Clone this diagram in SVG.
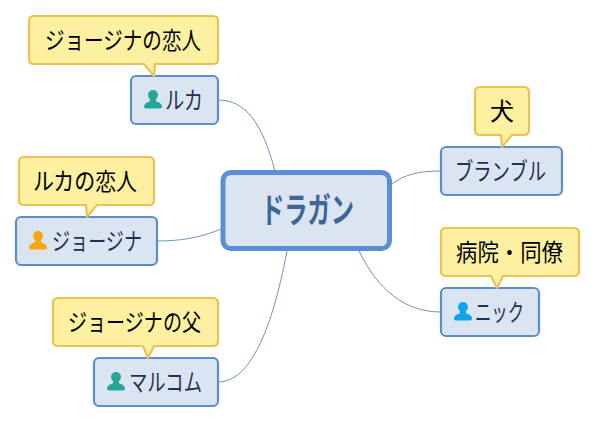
<svg xmlns="http://www.w3.org/2000/svg" width="596" height="423" viewBox="0 0 596 423">
<defs>
<style>
text{font-family:"Noto Sans CJK JP","Liberation Sans",sans-serif}
.n{fill:#dbe5f1;stroke:#5b8ecb;stroke-width:2.200}
.c{fill:#fdf0a0;stroke:#ecc255;stroke-width:2.200;stroke-linejoin:round}
.t{font-size:24px;fill:#1f3050}
.k{font-size:24px;fill:#000}
.l{fill:none;stroke:#6f93bd;stroke-width:1}
</style>
<g id="p"><circle cx="0" cy="-5" r="5"/><path d="M-2.800 -2 L2.800 -2 L3.200 1.500 Q8.500 2.500 9 6.500 Q9 8.500 7 8.500 L-7 8.500 Q-9 8.500 -9 6.500 Q-8.500 2.500 -3.200 1.500Z"/></g>
</defs>
<rect width="596" height="423" fill="#fff"/>
<g id="connectors">
<path class="l" d="M218 100 C245 100 262 122 275 171"/>
<path class="l" d="M157 241 C180 241 200 238 221 229"/>
<path class="l" d="M218 382 C250 382 272 330 287 251"/>
<path class="l" d="M441 171 C420 171 405 174 392 184"/>
<path class="l" d="M441 312 C405 312 378 290 359 251"/>
</g>
<g id="center"><rect x="223" y="172.500" width="166.500" height="76" rx="8" fill="#dbe5f1" stroke="#5a8fd3" stroke-width="5"/>
<text x="261" y="223" font-size="35" font-weight="700" fill="#3d6596" textLength="93" lengthAdjust="spacingAndGlyphs">ドラガン</text></g>
<g id="luca">
<rect class="n" x="131" y="76" width="87" height="48" rx="5"/>
<use href="#p" x="153" y="100" fill="#26a69a"/>
<text class="t" x="165" y="109" textLength="38" lengthAdjust="spacingAndGlyphs">ルカ</text>
<path class="c" d="M34 16 H213 Q218 16 218 21 V59 Q218 64 213 64 H155 L154 76 L144 64 H34 Q29 64 29 59 V21 Q29 16 34 16Z"/>
<text class="k" x="45" y="49" textLength="156" lengthAdjust="spacingAndGlyphs">ジョージナの恋人</text>
</g>
<g id="georgina">
<rect class="n" x="16" y="217" width="141" height="48" rx="5"/>
<use href="#p" x="38" y="241" fill="#f9a80c"/>
<text class="t" x="52" y="250" textLength="90" lengthAdjust="spacingAndGlyphs">ジョージナ</text>
<path class="c" d="M24 157 H149 Q154 157 154 162 V200 Q154 205 149 205 H97 L87 217 L86 205 H24 Q19 205 19 200 V162 Q19 157 24 157Z"/>
<text class="k" x="33" y="190" textLength="104" lengthAdjust="spacingAndGlyphs">ルカの恋人</text>
</g>
<g id="malcolm">
<rect class="n" x="94" y="358" width="124" height="48" rx="5"/>
<use href="#p" x="116" y="382" fill="#26a69a"/>
<text class="t" x="129" y="391" textLength="73" lengthAdjust="spacingAndGlyphs">マルコム</text>
<path class="c" d="M58 298 H213 Q218 298 218 303 V341 Q218 346 213 346 H154 L148 358 L143 346 H58 Q53 346 53 341 V303 Q53 298 58 298Z"/>
<text class="k" x="68" y="331" textLength="133" lengthAdjust="spacingAndGlyphs">ジョージナの父</text>
</g>
<g id="bramble">
<rect class="n" x="441" y="147" width="121" height="48" rx="5"/>
<text class="t" x="455" y="180" textLength="91" lengthAdjust="spacingAndGlyphs">ブランブル</text>
<path class="c" d="M480 87 H524 Q529 87 529 92 V130 Q529 135 524 135 H512 L502 147 L501 135 H480 Q475 135 475 130 V92 Q475 87 480 87Z"/>
<text class="k" x="490" y="120">犬</text>
</g>
<g id="nick">
<rect class="n" x="441" y="288" width="98" height="48" rx="5"/>
<use href="#p" x="463" y="312" fill="#0ea5f0"/>
<text class="t" x="475" y="321" textLength="49" lengthAdjust="spacingAndGlyphs">ニック</text>
<path class="c" d="M446 228 H574 Q579 228 579 233 V271 Q579 276 574 276 H503 L497 288 L491 276 H446 Q441 276 441 271 V233 Q441 228 446 228Z"/>
<text class="k" x="456" y="261" textLength="107" lengthAdjust="spacingAndGlyphs">病院・同僚</text>
</g>
</svg>
